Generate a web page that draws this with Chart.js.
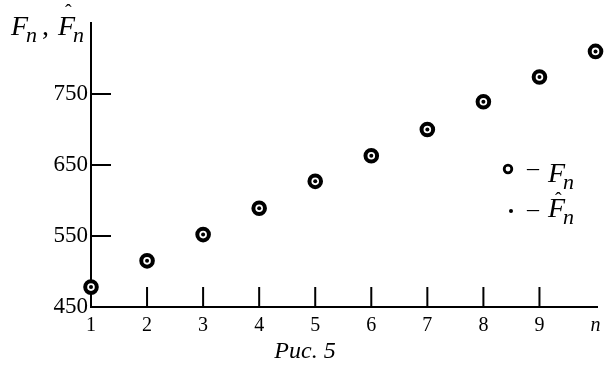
<!DOCTYPE html>
<html>
<head>
<meta charset="utf-8">
<title>Рис. 5</title>
<style>
  html, body { margin: 0; padding: 0; background: #fff; }
  #wrap { width: 607px; height: 368px; }
</style>
</head>
<body>
<div id="wrap"><canvas id="myChart"></canvas></div>

<script src="https://cdn.jsdelivr.net/npm/chart.js"></script>
<script>
// values
const nValues = [1, 2, 3, 4, 5, 6, 7, 8, 9, 10];
const F = [478, 515, 552, 589, 627, 663, 700, 739, 774, 810];
const Fhat = [478, 515, 552, 589, 627, 663, 700, 739, 774, 810];
const xTicks = [1, 2, 3, 4, 5, 6, 7, 8, 9, 10];
const xTickLabels = ['1', '2', '3', '4', '5', '6', '7', '8', '9', 'n'];
const yTicks = [450, 550, 650, 750];

const SERIF = '"Liberation Serif", "Times New Roman", serif';

// F with subscript n; hatDy = hat baseline offset (null = no hat)
function drawF(ctx, x, y, hatDy) {
    ctx.font = 'italic 28px ' + SERIF;
    ctx.textAlign = 'left';
    ctx.fillText('F', x, y);
    const w = ctx.measureText('F').width;
    if (hatDy !== null) {
        ctx.font = '20px ' + SERIF;
        ctx.textAlign = 'center';
        ctx.fillText('\u02C6', x + w * 0.6, y + hatDy);
        ctx.textAlign = 'left';
    }
    ctx.font = 'italic 22px ' + SERIF;
    ctx.fillText('n', x + w - 2, y + 7);
}

const extras = {
    id: 'extras',
    beforeDatasetsDraw(chart) {
        const ctx = chart.ctx;
        const a = chart.chartArea;
        const xs = chart.scales.x, ys = chart.scales.y;
        ctx.save();
        ctx.strokeStyle = '#000';
        ctx.lineWidth = 2;
        ctx.beginPath();
        xTicks.slice(1, -1).forEach(v => {
            const px = xs.getPixelForValue(v);
            ctx.moveTo(px, a.bottom);
            ctx.lineTo(px, a.bottom - 20);
        });
        yTicks.slice(1).forEach(v => {
            const py = ys.getPixelForValue(v);
            ctx.moveTo(a.left, py);
            ctx.lineTo(a.left + 20, py);
        });
        ctx.stroke();
        ctx.restore();
    },
    afterDraw(chart) {
        const ctx = chart.ctx;
        ctx.save();
        ctx.fillStyle = '#000';
        ctx.textBaseline = 'alphabetic';

        // axis title
        drawF(ctx, 11, 35, null);
        ctx.font = '28px ' + SERIF;
        ctx.fillText(',', 42, 35);
        drawF(ctx, 58, 35, -16);

        // legend
        ctx.lineWidth = 2.8;
        ctx.strokeStyle = '#000';
        ctx.beginPath();
        ctx.arc(508, 169, 3.8, 0, Math.PI * 2);
        ctx.stroke();
        ctx.font = '24px ' + SERIF;
        ctx.fillText('\u2013', 527, 175);
        drawF(ctx, 548, 182, null);

        ctx.beginPath();
        ctx.arc(511, 211, 2, 0, Math.PI * 2);
        ctx.fill();
        ctx.font = '24px ' + SERIF;
        ctx.fillText('\u2013', 527, 216);
        drawF(ctx, 548, 217, -10);

        // caption
        ctx.font = 'italic 24px ' + SERIF;
        ctx.textAlign = 'center';
        ctx.fillText('Рис. 5', 305, 358);
        ctx.restore();
    }
};

const data = {
    datasets: [
        {
            label: 'Fhat',
            data: nValues.map((n, i) => ({ x: n, y: Fhat[i] })),
            pointStyle: 'circle',
            pointRadius: 2,
            pointBorderWidth: 0,
            pointBackgroundColor: '#000',
            clip: false,
            order: 0
        },
        {
            label: 'F',
            data: nValues.map((n, i) => ({ x: n, y: F[i] })),
            pointStyle: 'circle',
            pointRadius: 5.8,
            pointBorderWidth: 4,
            pointBorderColor: '#000',
            pointBackgroundColor: '#fff',
            clip: false,
            order: 1
        }
    ]
};

const config = {
    type: 'scatter',
    data: data,
    plugins: [extras],
    options: {
        responsive: true,
        maintainAspectRatio: false,
        animation: false,
        layout: { padding: { top: 23, right: 5, left: 0, bottom: 0 } },
        plugins: {
            legend: { display: false },
            tooltip: { enabled: false },
            title: { display: false }
        },
        scales: {
            x: {
                type: 'linear',
                min: 1,
                max: 10.03,
                grid: { display: false, drawTicks: false },
                border: { display: true, color: '#000', width: 2 },
                afterBuildTicks: s => { s.ticks = xTicks.map(v => ({ value: v })); },
                afterFit: s => { s.height = 61; s.paddingLeft = 0; s.paddingRight = 0; },
                ticks: {
                    autoSkip: false,
                    maxRotation: 0,
                    padding: 7,
                    color: '#000',
                    font: c => ({
                        family: SERIF,
                        size: 20,
                        style: c.tick && c.tick.value === 10 ? 'italic' : 'normal'
                    }),
                    callback: v => xTickLabels[xTicks.indexOf(v)]
                }
            },
            y: {
                min: 450,
                max: 850,
                grid: { display: false, drawTicks: false },
                border: { display: true, color: '#000', width: 2 },
                afterBuildTicks: s => { s.ticks = yTicks.map(v => ({ value: v })); },
                afterFit: s => { s.width = 91; },
                ticks: {
                    padding: 3,
                    color: '#000',
                    font: { family: SERIF, size: 23 }
                }
            }
        }
    }
};

const ctx = document.getElementById('myChart');
new Chart(ctx, config);
</script>
</body>
</html>
